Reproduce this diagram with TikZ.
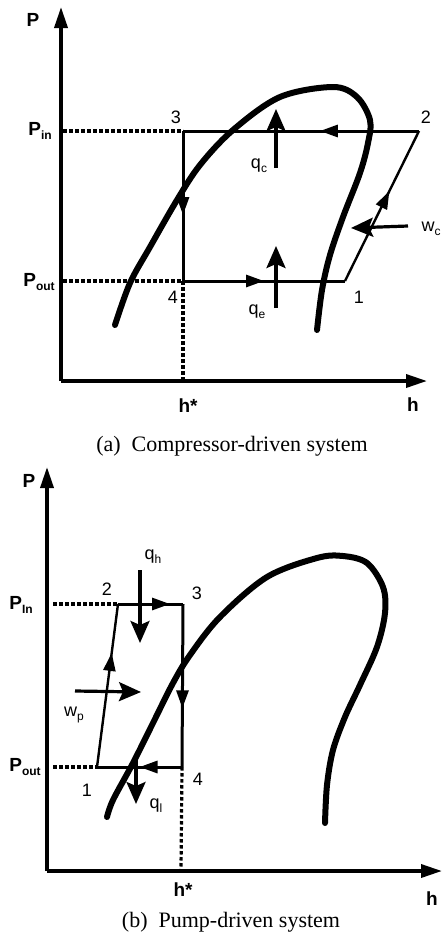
\documentclass[tikz,border=0pt]{standalone}
\usepackage{fontspec}
\setmainfont{Liberation Serif}
\setsansfont{Liberation Sans}
\usetikzlibrary{arrows.meta,decorations.markings}
\newcommand{\lowsub}[1]{\raisebox{-0.45ex}{\fontsize{12}{12}\selectfont #1}}
\tikzset{
  dome/.style={line width=6pt,line cap=round,line join=round},
  axis/.style={line width=3.5pt,-{Triangle[length=21pt,width=13pt]}},
  guide/.style={line width=3.2pt,dash pattern=on 3.5pt off 2.5pt},
  cyc/.style={line width=3pt},
  slant/.style={line width=2.4pt},
  heat/.style={line width=3.2pt,-{Stealth[length=22pt,width=19pt,inset=4pt]}},
  midarrow/.style={postaction=decorate,decoration={markings,
     mark=at position #1 with {\arrow{Triangle[length=18pt,width=12pt]}}}},
  lbl/.style={font=\sffamily\fontsize{18}{18}\selectfont,inner sep=0pt},
  blbl/.style={font=\sffamily\bfseries\fontsize{19}{19}\selectfont,inner sep=0pt},
  captext/.style={font=\rmfamily\fontsize{22}{22}\selectfont,inner sep=0pt}
}
\begin{document}
\begin{tikzpicture}[x=1pt,y=-1pt]
\useasboundingbox (0,0) rectangle (442,943);
\fill[white] (0,0) rectangle (442,943);

% ================= (a) Compressor-driven =================
\coordinate (aO) at (61,381);
\coordinate (aPtop) at (61,7);
\coordinate (aHend) at (427,381);
\coordinate (a1) at (345,281);
\coordinate (a2) at (419,131);
\coordinate (a3) at (183,131);
\coordinate (a4) at (183,281);
\coordinate (aPin) at (63,131);
\coordinate (aPout) at (63,281);
\coordinate (aHs) at (183,379);

\draw[axis] (aO) -- (aPtop);
\draw[axis] (aO) -- (aHend);
\draw[guide] (aPin) -- (a3);
\draw[guide] (aPout) -- (a4);
\draw[guide] (a4) -- (aHs);

\draw[dome] plot[smooth,tension=0.55] coordinates {(115,325) (130,283) (150,247) (177,200) (200,165) (233,130) (280,97) (333,87) (357,97) (370,120) (368,143) (360,173) (343,217) (330,255) (322,290) (317,330)};

\draw[cyc,midarrow=0.42] (a2) -- (a3);
\draw[cyc,midarrow=0.56] (a3) -- (a4);
\draw[cyc,midarrow=0.5] (a4) -- (a1);
\draw[slant,midarrow=0.6] (a1) -- (a2);

\coordinate (qcS) at (276,168);
\coordinate (qcE) at (276,109);
\coordinate (qeS) at (276,308);
\coordinate (qeE) at (276,246);
\coordinate (wcS) at (408,226);
\coordinate (wcE) at (351,228);
\draw[heat] (qcS) -- (qcE);
\draw[heat] (qeS) -- (qeE);
\draw[heat] (wcS) -- (wcE);

\node[blbl] (aP) at (33,20) {P};
\node[blbl] (ah) at (413,405) {h};
\node[blbl] (aPinL) at (40,131) {P\lowsub{\bfseries in}};
\node[blbl] (aPoutL) at (39,282) {P\lowsub{\bfseries out}};
\node[blbl] (ahs) at (188,406) {h*};
\node[lbl] (a3L) at (176,117) {3};
\node[lbl] (a2L) at (426,117) {2};
\node[lbl] (a1L) at (359,297) {1};
\node[lbl] (a4L) at (173,297) {4};
\node[lbl] (qcL) at (259,166) {q\lowsub{c}};
\node[lbl] (qeL) at (257,312) {q\lowsub{e}};
\node[lbl] (wcL) at (431,229) {w\lowsub{c}};
\node[captext] (capa) at (232,446) {(a)\ \ Compressor-driven system};

% ================= (b) Pump-driven =================
\coordinate (bO) at (47,871);
\coordinate (bPtop) at (47,467);
\coordinate (bHend) at (442,871);
\coordinate (b1) at (97,767);
\coordinate (b2) at (118,604);
\coordinate (b3) at (183,604);
\coordinate (b4) at (182,767);
\coordinate (bPin) at (53,604);
\coordinate (bPout) at (53,767);
\coordinate (bHs) at (181,869);

\draw[axis] (bO) -- (bPtop);
\draw[axis] (bO) -- (bHend);
\draw[guide] (bPin) -- (b2);
\draw[guide] (bPout) -- (b1);
\draw[guide] (b4) -- (bHs);

\draw[dome] plot[smooth,tension=0.55] coordinates {(107,817) (113,800) (133,763) (153,723) (173,683) (190,655) (220,617) (267,577) (317,558) (343,556) (367,563) (383,587) (385,613) (377,647) (360,685) (345,717) (333,750) (327,785) (325,823)};

\draw[slant,midarrow=0.7] (b1) -- (b2);
\draw[cyc,midarrow=0.8] (b2) -- (b3);
\draw[cyc,midarrow=0.64] (b3) -- (b4);
\draw[cyc,midarrow=0.5] (b4) -- (b1);

\coordinate (qhS) at (140,570);
\coordinate (qhE) at (140,643);
\coordinate (wpS) at (75,691);
\coordinate (wpE) at (141,692);
\coordinate (qlS) at (136,757);
\coordinate (qlE) at (136,804);
\draw[heat] (qhS) -- (qhE);
\draw[heat] (wpS) -- (wpE);
\draw[heat] (qlS) -- (qlE);

\node[blbl] (bP) at (29,481) {P};
\node[blbl] (bh) at (432,899) {h};
\node[blbl] (bPinL) at (21,605) {P\lowsub{\bfseries In}};
\node[blbl] (bPoutL) at (25,767) {P\lowsub{\bfseries out}};
\node[blbl] (bhs) at (183,890) {h*};
\node[lbl] (b2L) at (107,589) {2};
\node[lbl] (b3L) at (197,593) {3};
\node[lbl] (b1L) at (87,790) {1};
\node[lbl] (b4L) at (198,779) {4};
\node[lbl] (qhL) at (153,557) {q\lowsub{h}};
\node[lbl] (wpL) at (74,715) {w\lowsub{p}};
\node[lbl] (qlL) at (156,806) {q\lowsub{l}};
\node[captext] (capb) at (231,922) {(b)\ \ Pump-driven system};
\end{tikzpicture}
\end{document}
